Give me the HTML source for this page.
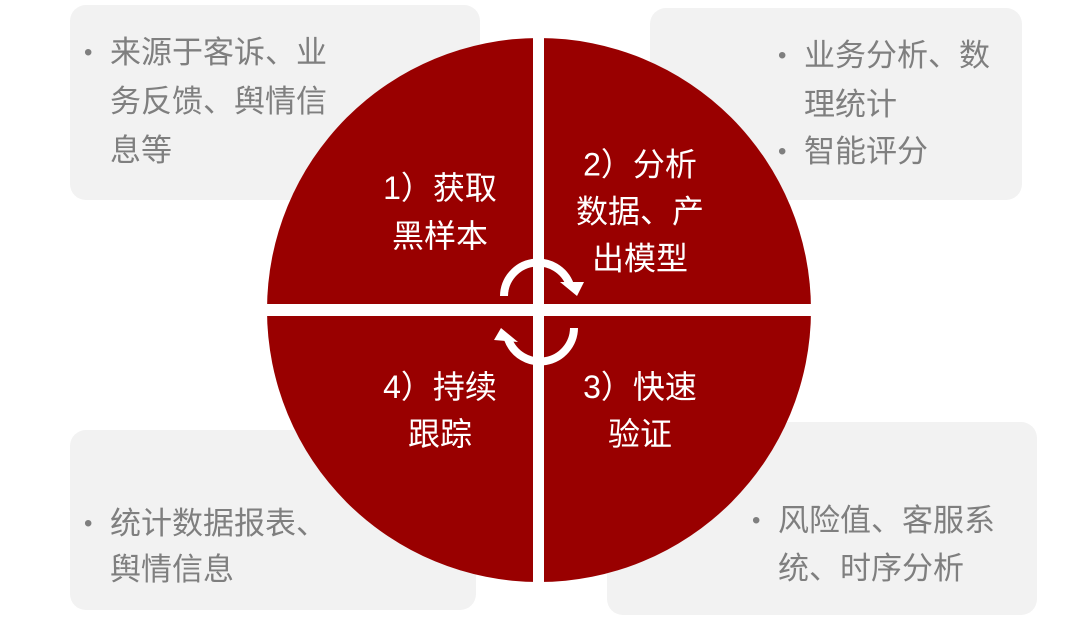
<!DOCTYPE html>
<html><head><meta charset="utf-8"><style>
body{margin:0;width:1080px;height:618px;background:#fff;position:relative;overflow:hidden;font-family:"Liberation Sans","Noto Sans CJK SC",sans-serif}
.box{position:absolute;background:#f2f2f2;border-radius:16px}
.t{position:absolute;color:#7f7f7f;font-size:31px;line-height:31px;white-space:nowrap;padding-left:26px}
.t:before{content:"•";position:absolute;left:0;top:0;font-size:24px}
.w{position:absolute;color:#fff;font-size:32px;line-height:32px;white-space:nowrap;transform:translate(-50%,-50%)}
svg{position:absolute;left:0;top:0}
</style></head><body>
<div class="box" style="left:70px;top:5px;width:410px;height:195px"></div>
<div class="box" style="left:650px;top:8px;width:372px;height:192px"></div>
<div class="box" style="left:70px;top:430px;width:406px;height:180px"></div>
<div class="box" style="left:607px;top:422px;width:430px;height:193px"></div>

<div class="t" style="left:84px;top:28px;line-height:49px">来源于客诉、业<br>务反馈、舆情信<br>息等</div>
<div class="t" style="left:778px;top:31px;line-height:49px">业务分析、数<br>理统计</div>
<div class="t" style="left:778px;top:136px">智能评分</div>
<div class="t" style="left:84px;top:501px;line-height:46px">统计数据报表、<br>舆情信息</div>
<div class="t" style="left:752px;top:497px;line-height:48px">风险值、客服系<br>统、时序分析</div>

<svg width="1080" height="618">
<circle cx="539" cy="310" r="272" fill="#990000"/>
<rect x="533" y="30" width="11" height="560" fill="#fff"/>
<rect x="260" y="304" width="560" height="12" fill="#fff"/>
<g fill="none" stroke="#fff" stroke-width="8">
<path d="M504 296 A34 34 0 0 1 570 285"/>
<path d="M574 328 A34 34 0 0 1 508 339"/>
</g>
<polygon points="560,282 584,282 577,296" fill="#fff"/>
<polygon points="518,342 494,340 501,328" fill="#fff"/>
</svg>

<div class="w" style="left:440px;top:212px;line-height:48px;text-align:center">1）获取<br>黑样本</div>
<div class="w" style="left:640px;top:212px;line-height:47px;text-align:center">2）分析<br>数据、产<br>出模型</div>
<div class="w" style="left:440px;top:411px;line-height:47px;text-align:center">4）持续<br>跟踪</div>
<div class="w" style="left:640px;top:411px;line-height:47px;text-align:center">3）快速<br>验证</div>
</body></html>
